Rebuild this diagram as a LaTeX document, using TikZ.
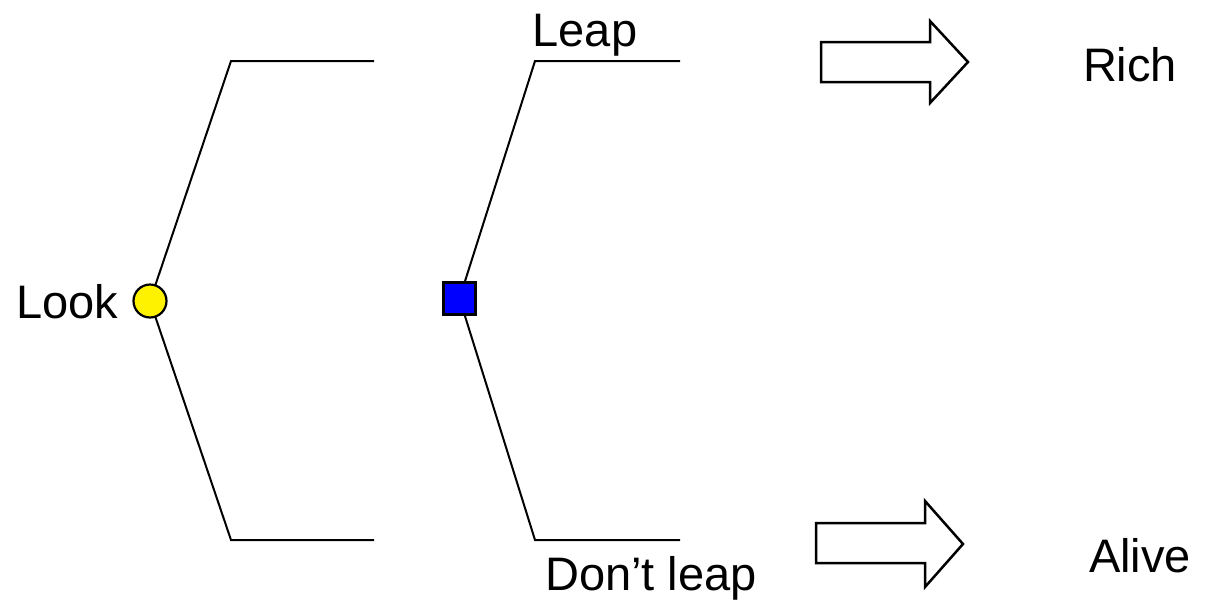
\documentclass[tikz,border=0pt]{standalone}
\usepackage{fontspec}
\setmainfont{Liberation Sans}
\begin{document}
\begin{tikzpicture}[x=1pt,y=-1pt,
  line width=2pt,
  lbl/.style={font=\fontsize{47}{56}\selectfont, inner sep=0pt, anchor=base},
  chance/.style={circle, draw=black, fill=yellow, minimum size=33pt, inner sep=0pt, line width=2.2pt},
  decision/.style={rectangle, draw=black, fill=blue, minimum size=32pt, inner sep=0pt, line width=2.2pt},
  branch/.style={draw=black, line width=2pt},
  fatarrow/.style={draw=black, fill=white, line width=2.5pt, line join=miter}]
\useasboundingbox (0,0) rectangle (1205,603);
% tree coordinates
\coordinate (lt1) at (231,61);
\coordinate (lt2) at (374,61);
\coordinate (lb1) at (231,540);
\coordinate (lb2) at (374,540);
\coordinate (rt1) at (535,61);
\coordinate (rt2) at (680,61);
\coordinate (rb1) at (535,540);
\coordinate (rb2) at (680,540);
\coordinate (cc) at (150,301);
\coordinate (sc) at (459.5,298.5);
% branches
\draw[branch] (cc) -- (lt1) -- (lt2);
\draw[branch] (cc) -- (lb1) -- (lb2);
\draw[branch] (sc) -- (rt1) -- (rt2);
\draw[branch] (sc) -- (rb1) -- (rb2);
% nodes
\node[chance] (look) at (cc) {};
\node[decision] (dec) at (sc) {};
% labels
\node[lbl] (looklbl) at (67,318) {Look};
\node[lbl] (leap) at (585,46) {Leap};
\node[lbl] (dontleap) at (651,590) {Don’t leap};
\node[lbl] (rich) at (1130,81) {Rich};
\node[lbl] (alive) at (1140,572) {Alive};
% block arrows
\draw[fatarrow] (821,42) -- (930,42) -- (930,21) -- (968,62) -- (930,103) -- (930,82) -- (821,82) -- cycle;
\draw[fatarrow] (816,523) -- (925,523) -- (925,501) -- (963,544) -- (925,587) -- (925,563) -- (816,563) -- cycle;
\end{tikzpicture}
\end{document}
